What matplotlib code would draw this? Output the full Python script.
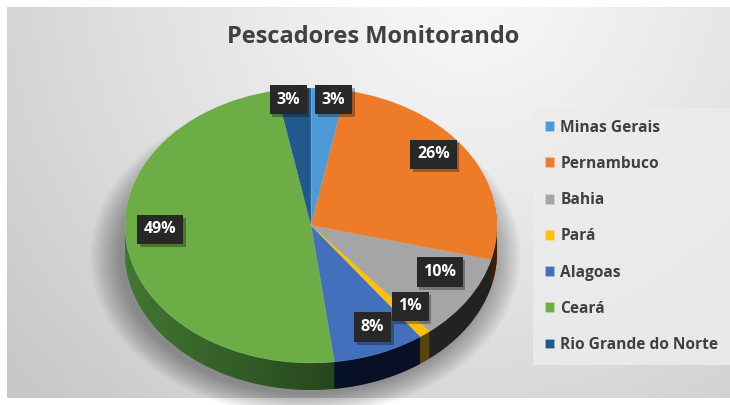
import numpy as np
import matplotlib
matplotlib.use('Agg')
import matplotlib.pyplot as plt
from matplotlib.patches import Ellipse, PathPatch, Rectangle
from matplotlib.path import Path
from matplotlib.transforms import IdentityTransform

# ---------------- data ----------------
categories = ['Minas Gerais', 'Pernambuco', 'Bahia', 'Pará', 'Alagoas', 'Ceará', 'Rio Grande do Norte']
values = [3, 26, 10, 1, 8, 49, 3]
colors = ['#4E9AD6', '#EE7B28', '#A5A5A5', '#FFC000', '#4270BC', '#6CAD45', '#1F5A8C']
side_colors = ['#244a70', '#7a3c10', '#454545', '#b08818', '#0e2048', '#457d34', '#0c2a48']
title = 'Pescadores Monitorando'

FONT = ['Open Sans', 'DejaVu Sans']
plt.rcParams['font.family'] = FONT

W, H = 730, 405
fig = plt.figure(figsize=(W / 100, H / 100), dpi=100)
fig.patch.set_facecolor('white')

# ---------------- background ----------------
bx0, by0, bx1, by1 = 7, 7, 730, 398
bg = fig.add_axes([bx0 / W, 1 - by1 / H, (bx1 - bx0) / W, (by1 - by0) / H])
yy, xx = np.mgrid[by0:by1, bx0:bx1]
d = np.hypot(xx - 470, yy + 20)
v = 248 - 48 * np.clip(d / 600, 0, 1) ** 1.2
img = np.dstack([v, v, v]) / 255.0
bg.imshow(img, aspect='auto', extent=(0, 1, 0, 1), interpolation='bilinear')
bg.set_axis_off()

# ---------------- pie axes ----------------
px0, px1, py0, py1 = 125, 497, 88, 390
ry_px = 137.5
depth = 27 / ry_px
ax = fig.add_axes([px0 / W, 1 - py1 / H, (px1 - px0) / W, (py1 - py0) / H])
ax.set_axis_off()

# soft shadow
for i in range(14):
    s = 1.0 + i * 0.012
    e = Ellipse((-0.03, -depth - 0.03), 2 * s, 2 * s, facecolor='black', alpha=0.028,
                edgecolor='none', zorder=0, clip_on=False)
    ax.add_patch(e)

# side wall (stacked layers)
N = 30
for k in range(N, 0, -1):
    ws, _ = ax.pie(values, colors=side_colors, startangle=90, counterclock=False,
                   center=(0, -depth * k / N), radius=1,
                   wedgeprops=dict(linewidth=0, antialiased=True), frame=False)
    for w in ws:
        w.set_zorder(1)

# horizontal shading on the side wall
theta = np.linspace(np.pi, 2 * np.pi, 200)
top = np.column_stack([np.cos(theta), np.sin(theta)])
bot = np.column_stack([np.cos(theta[::-1]), np.sin(theta[::-1]) - depth])
verts = np.vstack([top, bot, top[:1]])
side_path = Path(verts, [Path.MOVETO] + [Path.LINETO] * (len(verts) - 2) + [Path.CLOSEPOLY])
gx = np.linspace(-1, 1, 400)
alpha = 0.05 + 0.45 * np.clip((gx + 1) / 1.3, 0, 1)
shade = np.zeros((2, 400, 4))
shade[..., 3] = alpha
im = ax.imshow(shade, extent=(-1, 1, -1 - depth, 0), aspect='auto', zorder=2,
               interpolation='bilinear')
pp = PathPatch(side_path, transform=ax.transData, facecolor='none', edgecolor='none')
ax.add_patch(pp)
im.set_clip_path(pp)

# top surface
wedges, _ = ax.pie(values, colors=colors, startangle=90, counterclock=False,
                   center=(0, 0), radius=1,
                   wedgeprops=dict(linewidth=0.4, edgecolor=(1, 1, 1, 0.25)), frame=False)
for w in wedges:
    w.set_zorder(3)

ax.set_aspect('auto')
ax.set_xlim(-1, 1)
ax.set_ylim(-1 - depth, 1)

# data labels
total = float(sum(values))
label_r = [0.82, 0.78, 0.82, 0.87, 0.9, 0.82, 0.82]
label_dx = [0.045, 0, 0, 0, 0, 0, -0.045]
apex = 0.1
label_texts = []
for w, val, r, dx in zip(wedges, values, label_r, label_dx):
    mid = np.deg2rad((w.theta1 + w.theta2) / 2)
    x = r * np.cos(mid) + dx
    y = r * np.sin(mid) + apex
    t = ax.text(x, y, f'{val / total * 100:.0f}%', ha='center', va='center',
                fontsize=11.5, fontweight='bold', color='white', zorder=6,
                bbox=dict(boxstyle='square,pad=0.42', facecolor='#282828', edgecolor='none'))
    label_texts.append(t)

# title
fig.text(373 / W, 1 - 37 / H, title, ha='center', va='center', fontsize=17,
         fontweight='bold', color='#404040')

# legend
leg = fig.legend(wedges, categories, loc='upper left',
                 bbox_to_anchor=(533 / W, 1 - 108 / H), frameon=True,
                 facecolor='#ececec', edgecolor='none', framealpha=0.85, fancybox=False,
                 handlelength=0.6, handleheight=0.6, handletextpad=0.4,
                 labelspacing=1.3, borderpad=0.75, borderaxespad=0,
                 prop=dict(family=FONT, weight='bold', size=11.2))
for t in leg.get_texts():
    t.set_color('#404040')

# drop shadows behind the data-label boxes
fig.canvas.draw()
renderer = fig.canvas.get_renderer()
for t in label_texts:
    bb = t.get_bbox_patch().get_window_extent(renderer)
    sh = Rectangle((bb.x0 + 2.5, bb.y0 - 3), bb.width, bb.height, transform=IdentityTransform(),
                   facecolor='black', alpha=0.3, edgecolor='none', zorder=5, clip_on=False)
    ax.add_artist(sh)

fig.savefig('out.png', dpi=100, facecolor='white')
